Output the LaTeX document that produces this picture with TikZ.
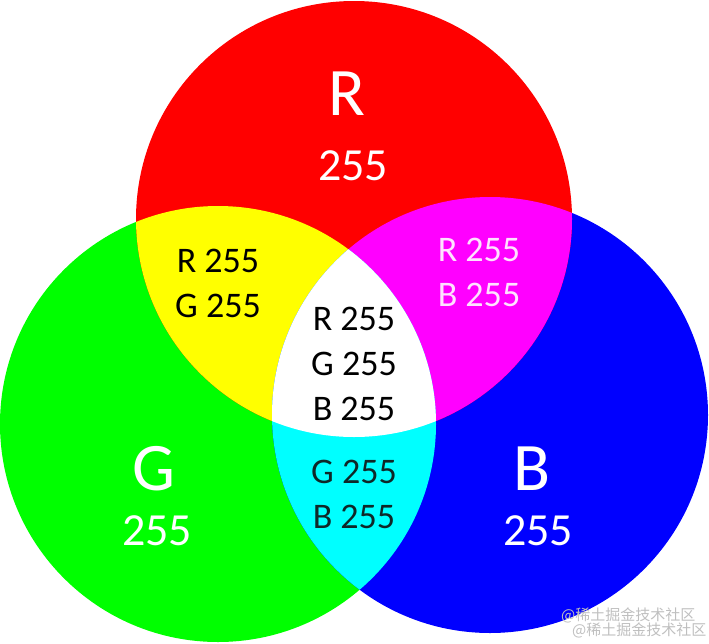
\documentclass[tikz,border=0pt]{standalone}
\usepackage{fontspec}
\setmainfont{Carlito}
\newfontfamily\cjk{Noto Sans CJK SC}
\definecolor{pR}{RGB}{255,0,0}
\definecolor{pG}{RGB}{0,255,0}
\definecolor{pB}{RGB}{0,0,255}
\definecolor{sY}{RGB}{255,255,0}
\definecolor{sM}{RGB}{255,0,255}
\definecolor{sC}{RGB}{0,255,255}
\definecolor{pinkish}{RGB}{255,225,255}
\definecolor{darkcyan}{RGB}{15,40,40}
\begin{document}
\begin{tikzpicture}[x=1pt,y=-1pt,
  bigletter/.style={text=white,font=\fontsize{68}{68}\selectfont,inner sep=0pt},
  bignum/.style={text=white,font=\fontsize{46}{46}\selectfont,inner sep=0pt},
  lbl/.style={align=center,font=\fontsize{36}{45}\selectfont,inner sep=0pt},
  wm/.style={text=black!25,font=\cjk\fontsize{15}{15}\selectfont,inner sep=0pt,anchor=west}]
\useasboundingbox (0,0) rectangle (709,643);
\coordinate (cR) at (354,219);
\coordinate (cG) at (218,424);
\coordinate (cB) at (490,415);
% primaries
\fill[pG] (cG) circle[radius=218pt];
\fill[pB] (cB) circle[radius=218pt];
\fill[pR] (cR) circle[radius=218pt];
% secondary overlaps
\begin{scope}
  \clip (cR) circle[radius=218pt];
  \fill[sY] (cG) circle[radius=218pt];
  \fill[sM] (cB) circle[radius=218pt];
\end{scope}
\begin{scope}
  \clip (cG) circle[radius=218pt];
  \fill[sC] (cB) circle[radius=218pt];
\end{scope}
\begin{scope}
  \clip (cR) circle[radius=218pt];
  \clip (cG) circle[radius=218pt];
  \fill[white] (cB) circle[radius=218pt];
\end{scope}
% labels
\node[bigletter] (tR) at (347,94) {R};
\node[bignum] (nR) at (353,166) {255};
\node[bigletter] (tG) at (154,469) {G};
\node[bignum] (nG) at (157,531) {255};
\node[bigletter] (tB) at (532,469) {B};
\node[bignum] (nB) at (538,531) {255};
\node[lbl,text=black] (rg) at (218,283) {R 255\\G 255};
\node[lbl,text=pinkish] (rb) at (479,272) {R 255\\B 255};
\node[lbl,text=black] (rgb) at (354,364) {R 255\\G 255\\B 255};
\node[lbl,text=darkcyan] (gb) at (354,494) {G 255\\B 255};
% watermark
\node[wm] (wm1) at (561,615) {@稀土掘金技术社区};
\node[wm] (wm2) at (572,630) {@稀土掘金技术社区};
\end{tikzpicture}
\end{document}
